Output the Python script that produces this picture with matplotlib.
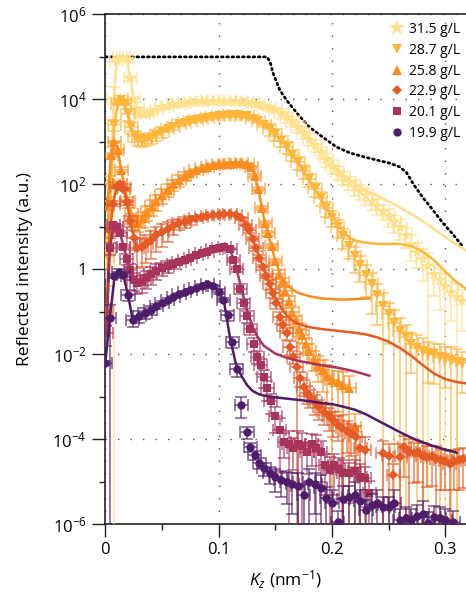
import numpy as np
import matplotlib
matplotlib.use('Agg')
import matplotlib.pyplot as plt
from matplotlib.lines import Line2D
from matplotlib.ticker import FixedLocator, FixedFormatter

plt.rcParams['font.family'] = ['Open Sans', 'DejaVu Sans']
plt.rcParams['mathtext.fontset'] = 'custom'
plt.rcParams['mathtext.rm'] = 'Open Sans'
plt.rcParams['mathtext.it'] = 'Open Sans:italic'
plt.rcParams['mathtext.bf'] = 'Open Sans:bold'

# ---------------- data (Kz [nm^-1], log10 intensity, relative error) ----------------
labels = ['31.5 g/L', '28.7 g/L', '25.8 g/L', '22.9 g/L', '20.1 g/L', '19.9 g/L']
colors = ['#FEE08C', '#FDB53A', '#F98D1E', '#E45B26', '#A8345B', '#4F1C6A']
markers = ['*', 'v', '^', 'D', 's', 'o']

data_315 = np.array([
    [0.000, 0.1, 0.5], [0.004, 2.0, 0.6], [0.0075, 4.0, 1.0], [0.010, 4.9, 0.06], [0.013, 5.0, 0.06],
    [0.016, 5.0, 0.06], [0.019, 4.95, 0.06], [0.022, 4.5, 0.12], [0.025, 4.0, 0.12], [0.028, 3.78, 0.12],
    [0.031, 3.68, 0.12], [0.034, 3.65, 0.12], [0.037, 3.66, 0.12], [0.040, 3.7, 0.12], [0.045, 3.76, 0.06],
    [0.050, 3.81, 0.06], [0.055, 3.85, 0.06], [0.060, 3.88, 0.06], [0.065, 3.9, 0.06], [0.070, 3.92, 0.06],
    [0.075, 3.94, 0.06], [0.080, 3.95, 0.06], [0.085, 3.96, 0.06], [0.090, 3.97, 0.06], [0.095, 3.97, 0.06],
    [0.100, 3.97, 0.06], [0.105, 3.97, 0.06], [0.110, 3.96, 0.06], [0.115, 3.96, 0.06], [0.120, 3.95, 0.06],
    [0.125, 3.94, 0.06], [0.130, 3.92, 0.06], [0.135, 3.88, 0.12], [0.140, 3.84, 0.12], [0.145, 3.79, 0.12],
    [0.150, 3.74, 0.12], [0.155, 3.67, 0.25], [0.160, 3.58, 0.25], [0.165, 3.48, 0.25], [0.170, 3.36, 0.3],
    [0.175, 3.22, 0.3], [0.180, 3.07, 0.3], [0.185, 2.92, 0.3], [0.190, 2.76, 0.3], [0.195, 2.6, 0.35],
    [0.200, 2.44, 0.35], [0.205, 2.3, 0.35], [0.210, 2.17, 0.35], [0.215, 2.05, 0.35], [0.220, 1.95, 0.4],
    [0.225, 1.85, 0.4], [0.230, 1.74, 0.4], [0.235, 1.62, 0.4], [0.240, 1.5, 0.4], [0.245, 1.38, 0.4],
    [0.250, 1.25, 0.45], [0.255, 1.12, 0.45], [0.260, 1.0, 0.5], [0.265, 0.8, 0.5], [0.270, 0.6, 0.6],
    [0.275, 0.42, 0.6], [0.280, 0.25, 0.7], [0.285, 0.08, 1.0], [0.290, -0.1, 0.7], [0.295, -0.25, 0.8],
    [0.300, -0.4, 1.0], [0.305, -0.52, 0.8], [0.310, -0.65, 1.0], [0.315, -0.75, 0.8]])

data_287 = np.array([
    [0.002, 0.3, 0.8], [0.005, 2.0, 0.6], [0.008, 3.4, 0.3], [0.011, 3.9, 0.06], [0.014, 3.98, 0.06],
    [0.017, 3.9, 0.06], [0.020, 3.65, 0.3], [0.023, 3.35, 0.3], [0.026, 3.15, 0.3], [0.029, 3.07, 0.3],
    [0.032, 3.03, 0.3], [0.035, 3.05, 0.3], [0.040, 3.1, 0.3], [0.045, 3.17, 0.3], [0.050, 3.24, 0.3],
    [0.055, 3.3, 0.15], [0.060, 3.36, 0.15], [0.065, 3.41, 0.1], [0.070, 3.45, 0.1], [0.075, 3.49, 0.1],
    [0.080, 3.52, 0.1], [0.085, 3.55, 0.1], [0.090, 3.57, 0.1], [0.095, 3.59, 0.1], [0.100, 3.61, 0.1],
    [0.105, 3.62, 0.1], [0.110, 3.63, 0.1], [0.115, 3.63, 0.1], [0.120, 3.62, 0.1], [0.125, 3.6, 0.1],
    [0.130, 3.55, 0.1], [0.135, 3.48, 0.1], [0.140, 3.4, 0.1], [0.145, 3.3, 0.3], [0.150, 3.18, 0.3],
    [0.155, 3.03, 0.3], [0.160, 2.88, 0.3], [0.165, 2.7, 0.3], [0.170, 2.52, 0.35], [0.175, 2.32, 0.35],
    [0.180, 2.12, 0.35], [0.185, 1.9, 0.35], [0.190, 1.68, 0.35], [0.195, 1.45, 0.4], [0.200, 1.22, 0.4],
    [0.205, 1.0, 0.45], [0.210, 0.78, 0.5], [0.215, 0.55, 0.5], [0.220, 0.32, 0.6], [0.225, 0.1, 0.6],
    [0.230, -0.12, 0.7], [0.235, -0.35, 0.8], [0.240, -0.6, 0.8], [0.245, -0.85, 1.0], [0.250, -1.05, 0.8],
    [0.255, -1.25, 1.0], [0.260, -1.45, 1.0], [0.265, -1.6, 1.0], [0.270, -1.75, 0.8], [0.275, -1.85, 1.0],
    [0.280, -1.92, 1.0], [0.285, -1.97, 0.8], [0.290, -2.0, 0.8], [0.295, -2.05, 1.0], [0.300, -2.08, 0.8],
    [0.305, -2.12, 1.0], [0.310, -2.17, 1.0], [0.315, -2.2, 0.8]])

data_258 = np.array([
    [0.002, 1.5, 0.6], [0.005, 2.7, 0.12], [0.008, 3.0, 0.06], [0.011, 2.8, 0.06], [0.014, 2.35, 0.12],
    [0.017, 1.95, 0.12], [0.020, 1.6, 0.3], [0.023, 1.3, 0.4], [0.026, 1.12, 0.4], [0.029, 1.1, 0.4],
    [0.033, 1.2, 0.4], [0.037, 1.35, 0.4], [0.041, 1.48, 0.4], [0.045, 1.6, 0.4], [0.050, 1.75, 0.4],
    [0.055, 1.88, 0.35], [0.060, 2.0, 0.3], [0.065, 2.1, 0.3], [0.070, 2.2, 0.25], [0.075, 2.27, 0.12],
    [0.080, 2.33, 0.06], [0.085, 2.38, 0.06], [0.090, 2.42, 0.06], [0.095, 2.45, 0.06], [0.100, 2.47, 0.06],
    [0.105, 2.48, 0.06], [0.110, 2.49, 0.06], [0.115, 2.5, 0.06], [0.120, 2.5, 0.06], [0.125, 2.48, 0.06],
    [0.129, 2.4, 0.06], [0.132, 2.2, 0.12], [0.135, 1.9, 0.12], [0.138, 1.45, 0.12], [0.141, 1.1, 0.12],
    [0.144, 0.85, 0.12], [0.147, 0.55, 0.12], [0.150, 0.2, 0.12], [0.153, -0.1, 0.25], [0.156, -0.3, 0.25],
    [0.159, -0.5, 0.25], [0.162, -0.75, 0.3], [0.165, -1.0, 0.3], [0.168, -1.2, 0.3], [0.171, -1.4, 0.35],
    [0.174, -1.55, 0.35], [0.177, -1.75, 0.4], [0.180, -1.92, 0.45], [0.184, -2.1, 0.5], [0.188, -2.25, 0.6],
    [0.192, -2.37, 0.7], [0.196, -2.5, 0.8], [0.200, -2.6, 1.0], [0.205, -2.65, 0.8], [0.210, -2.72, 1.0],
    [0.215, -2.8, 1.0], [0.220, -3.7, 1.0]])

data_229 = np.array([
    [0.001, -1.0, 0.5], [0.004, 0.9, 0.3], [0.007, 1.55, 0.12], [0.010, 1.95, 0.06], [0.013, 2.02, 0.06],
    [0.016, 1.9, 0.06], [0.019, 1.58, 0.12], [0.022, 1.15, 0.3], [0.025, 0.75, 0.5], [0.028, 0.5, 0.65],
    [0.032, 0.52, 0.65], [0.036, 0.6, 0.65], [0.040, 0.69, 0.65], [0.045, 0.8, 0.6], [0.050, 0.88, 0.55],
    [0.055, 0.95, 0.5], [0.060, 1.02, 0.4], [0.065, 1.08, 0.3], [0.070, 1.12, 0.3], [0.075, 1.16, 0.25],
    [0.080, 1.2, 0.12], [0.085, 1.23, 0.12], [0.090, 1.25, 0.06], [0.095, 1.27, 0.06], [0.100, 1.28, 0.06],
    [0.105, 1.3, 0.06], [0.110, 1.3, 0.06], [0.115, 1.28, 0.06], [0.120, 1.2, 0.06], [0.124, 1.05, 0.06],
    [0.127, 0.92, 0.12], [0.130, 0.72, 0.12], [0.133, 0.5, 0.12], [0.136, 0.28, 0.12], [0.139, 0.05, 0.12],
    [0.142, -0.15, 0.12], [0.145, -0.35, 0.25], [0.148, -0.55, 0.25], [0.151, -0.8, 0.25], [0.154, -1.12, 0.3],
    [0.157, -1.3, 0.3], [0.160, -1.5, 0.3], [0.163, -1.82, 0.35], [0.166, -2.05, 0.35], [0.169, -2.3, 1.0],
    [0.172, -2.55, 0.4], [0.175, -2.76, 0.4], [0.178, -2.9, 0.45], [0.181, -3.0, 0.45], [0.185, -3.12, 0.5],
    [0.189, -3.24, 0.5], [0.193, -3.35, 0.5], [0.197, -3.45, 0.55], [0.201, -3.55, 0.6], [0.205, -3.65, 0.6],
    [0.209, -3.72, 1.0], [0.213, -3.8, 0.7], [0.217, -3.86, 0.7], [0.221, -3.95, 0.8], [0.225, -4.2, 0.8],
    [0.229, -4.25, 1.0], [0.245, -4.33, 1.0], [0.250, -4.4, 1.0], [0.254, -4.84, 0.8], [0.260, -4.41, 1.0],
    [0.264, -4.18, 0.8], [0.268, -4.3, 1.0], [0.272, -4.33, 0.8], [0.276, -4.3, 0.8], [0.280, -4.38, 1.0],
    [0.284, -4.41, 0.8], [0.288, -4.4, 0.8], [0.292, -4.45, 1.0], [0.296, -4.49, 0.8], [0.300, -4.5, 0.8],
    [0.304, -4.57, 1.0], [0.308, -4.5, 0.8], [0.312, -4.49, 0.8], [0.316, -4.45, 0.8]])

data_201 = np.array([
    [0.001, -1.5, 0.5], [0.004, 0.5, 0.3], [0.007, 1.04, 0.12], [0.010, 1.0, 0.12], [0.013, 0.85, 0.12],
    [0.016, 0.53, 0.12], [0.019, 0.25, 0.3], [0.022, -0.02, 0.4], [0.025, -0.25, 0.45], [0.028, -0.32, 0.45],
    [0.032, -0.3, 0.45], [0.036, -0.2, 0.45], [0.040, -0.1, 0.45], [0.045, -0.03, 0.4], [0.050, 0.03, 0.35],
    [0.055, 0.08, 0.3], [0.060, 0.13, 0.25], [0.065, 0.18, 0.12], [0.070, 0.23, 0.12], [0.075, 0.28, 0.06],
    [0.080, 0.33, 0.06], [0.085, 0.38, 0.06], [0.090, 0.42, 0.06], [0.095, 0.47, 0.06], [0.100, 0.5, 0.06],
    [0.105, 0.53, 0.06], [0.110, 0.48, 0.06], [0.113, 0.22, 0.12], [0.116, 0.0, 0.12], [0.119, -0.45, 0.25],
    [0.122, -0.8, 0.25], [0.125, -1.1, 0.3], [0.128, -1.4, 0.3], [0.131, -1.75, 0.35], [0.134, -2.05, 0.35],
    [0.137, -2.25, 0.4], [0.140, -2.53, 0.45], [0.143, -2.8, 0.5], [0.146, -3.1, 0.5], [0.150, -3.45, 0.6],
    [0.154, -3.78, 0.9], [0.158, -4.05, 0.6], [0.162, -4.1, 1.0], [0.166, -4.2, 0.7], [0.170, -4.1, 1.0],
    [0.174, -4.15, 1.0], [0.178, -4.3, 0.7], [0.182, -4.1, 0.7], [0.186, -4.2, 1.0], [0.190, -4.3, 0.8],
    [0.194, -4.6, 0.8], [0.198, -4.72, 1.0], [0.202, -4.6, 0.8], [0.206, -4.7, 0.8], [0.210, -4.78, 1.0],
    [0.215, -4.8, 0.8], [0.220, -4.75, 0.8], [0.225, -4.88, 1.0], [0.229, -4.9, 0.8], [0.233, -5.27, 1.0]])

data_199 = np.array([
    [0.000, -2.2, 0.12], [0.004, -1.15, 1.0], [0.008, -0.15, 0.12], [0.012, -0.05, 0.12], [0.016, -0.12, 0.12],
    [0.020, -0.6, 0.3], [0.024, -1.2, 0.3], [0.030, -1.1, 0.3], [0.035, -1.02, 0.3], [0.040, -0.95, 0.25],
    [0.045, -0.87, 0.12], [0.050, -0.79, 0.12], [0.055, -0.71, 0.06], [0.060, -0.65, 0.06], [0.065, -0.59, 0.06],
    [0.070, -0.54, 0.06], [0.075, -0.48, 0.06], [0.080, -0.43, 0.06], [0.085, -0.38, 0.06], [0.090, -0.35, 0.06],
    [0.095, -0.40, 0.06], [0.100, -0.52, 0.12], [0.104, -0.72, 0.12], [0.108, -1.08, 0.25], [0.112, -1.7, 0.3],
    [0.116, -2.35, 0.35], [0.120, -3.19, 0.5], [0.125, -3.83, 0.3], [0.128, -4.17, 0.25], [0.132, -4.37, 0.25],
    [0.136, -4.55, 0.3], [0.140, -4.68, 0.35], [0.145, -4.8, 0.45], [0.150, -4.88, 0.55], [0.155, -4.95, 0.6],
    [0.160, -5.0, 0.7], [0.165, -5.05, 0.8], [0.170, -5.1, 1.0], [0.175, -5.3, 0.8], [0.180, -5.0, 1.0],
    [0.185, -5.05, 0.8], [0.190, -5.15, 1.0], [0.195, -5.38, 0.8], [0.200, -5.5, 1.0], [0.205, -5.95, 0.8],
    [0.210, -5.4, 1.0], [0.215, -5.36, 0.8], [0.220, -5.3, 1.0], [0.225, -5.45, 0.8], [0.230, -5.67, 0.8],
    [0.235, -5.55, 0.8], [0.240, -5.5, 1.0], [0.245, -5.6, 0.8], [0.250, -5.6, 0.8], [0.255, -5.5, 1.0],
    [0.260, -5.9, 0.8], [0.265, -5.85, 0.8], [0.270, -5.9, 0.8], [0.275, -5.8, 0.8], [0.280, -5.75, 1.0],
    [0.285, -5.97, 0.8], [0.290, -5.83, 0.8], [0.295, -5.85, 0.8], [0.300, -5.9, 0.8], [0.307, -5.95, 0.8]])

# fitted model curves (Kz, log10 intensity)
fit_315 = np.array([
    [0.000, 0.1], [0.004, 2.0], [0.0075, 4.0], [0.010, 4.9], [0.013, 5.0], [0.016, 5.0], [0.019, 4.95],
    [0.022, 4.5], [0.025, 4.0], [0.028, 3.78], [0.032, 3.67], [0.036, 3.66], [0.040, 3.7], [0.050, 3.81],
    [0.060, 3.88], [0.070, 3.92], [0.080, 3.95], [0.090, 3.97], [0.100, 3.97], [0.110, 3.96], [0.120, 3.95],
    [0.130, 3.92], [0.140, 3.84], [0.150, 3.74], [0.160, 3.58], [0.170, 3.36], [0.180, 3.07], [0.190, 2.76],
    [0.200, 2.45], [0.210, 2.2], [0.220, 2.02], [0.230, 1.87], [0.240, 1.73], [0.250, 1.6], [0.260, 1.46],
    [0.270, 1.3], [0.280, 1.14], [0.290, 0.95], [0.300, 0.76], [0.310, 0.58], [0.318, 0.45]])
fit_287 = np.array([
    [0.002, 0.3], [0.005, 2.0], [0.008, 3.4], [0.011, 3.9], [0.014, 3.98], [0.017, 3.9], [0.020, 3.65],
    [0.023, 3.35], [0.026, 3.15], [0.030, 3.05], [0.040, 3.1], [0.050, 3.24], [0.060, 3.36], [0.070, 3.45],
    [0.080, 3.52], [0.090, 3.57], [0.100, 3.61], [0.110, 3.63], [0.120, 3.62], [0.130, 3.55], [0.140, 3.4],
    [0.150, 3.18], [0.160, 2.88], [0.170, 2.52], [0.180, 2.12], [0.190, 1.68], [0.200, 1.25], [0.210, 0.9],
    [0.215, 0.75], [0.220, 0.68], [0.230, 0.63], [0.240, 0.6], [0.250, 0.6], [0.260, 0.6], [0.270, 0.55],
    [0.280, 0.42], [0.290, 0.22], [0.300, -0.05], [0.310, -0.3], [0.318, -0.45]])
fit_258 = np.array([
    [0.002, 1.5], [0.005, 2.7], [0.008, 3.0], [0.011, 2.8], [0.014, 2.35], [0.017, 1.95], [0.020, 1.6],
    [0.023, 1.3], [0.026, 1.12], [0.030, 1.12], [0.040, 1.45], [0.050, 1.75], [0.060, 2.0], [0.070, 2.2],
    [0.080, 2.33], [0.090, 2.42], [0.100, 2.47], [0.110, 2.49], [0.120, 2.5], [0.125, 2.48], [0.130, 2.35],
    [0.135, 1.9], [0.140, 1.2], [0.145, 0.7], [0.150, 0.2], [0.155, -0.15], [0.160, -0.35], [0.165, -0.47],
    [0.170, -0.55], [0.180, -0.63], [0.190, -0.68], [0.200, -0.7], [0.210, -0.71], [0.220, -0.7], [0.233, -0.68]])
fit_229 = np.array([
    [0.001, -1.0], [0.004, 0.9], [0.007, 1.55], [0.010, 1.95], [0.013, 2.0], [0.016, 1.9], [0.019, 1.58],
    [0.022, 1.15], [0.025, 0.75], [0.028, 0.52], [0.035, 0.58], [0.045, 0.8], [0.055, 0.95], [0.065, 1.08],
    [0.075, 1.16], [0.085, 1.23], [0.095, 1.27], [0.105, 1.3], [0.115, 1.28], [0.120, 1.2], [0.125, 1.02],
    [0.130, 0.72], [0.135, 0.35], [0.140, 0.0], [0.145, -0.35], [0.150, -0.65], [0.155, -0.9], [0.160, -1.08],
    [0.165, -1.2], [0.170, -1.28], [0.180, -1.36], [0.190, -1.4], [0.200, -1.43], [0.210, -1.46], [0.220, -1.49],
    [0.230, -1.53], [0.240, -1.6], [0.250, -1.7], [0.260, -1.85], [0.270, -2.03], [0.280, -2.25], [0.290, -2.45],
    [0.300, -2.58], [0.310, -2.65], [0.318, -2.68]])
fit_201 = np.array([
    [0.001, -1.5], [0.004, 0.5], [0.007, 1.0], [0.010, 1.0], [0.013, 0.85], [0.016, 0.55], [0.020, 0.15],
    [0.025, -0.22], [0.028, -0.3], [0.035, -0.2], [0.045, -0.03], [0.055, 0.08], [0.065, 0.18], [0.075, 0.28],
    [0.085, 0.38], [0.095, 0.47], [0.105, 0.53], [0.110, 0.48], [0.115, 0.1], [0.120, -0.45], [0.125, -0.95],
    [0.130, -1.35], [0.135, -1.62], [0.140, -1.8], [0.150, -1.98], [0.160, -2.08], [0.170, -2.15], [0.180, -2.2],
    [0.190, -2.25], [0.200, -2.29], [0.210, -2.34], [0.220, -2.4], [0.233, -2.5]])
fit_199 = np.array([
    [0.000, -2.2], [0.004, -1.15], [0.008, -0.2], [0.012, -0.05], [0.016, -0.15], [0.020, -0.6], [0.024, -1.15],
    [0.030, -1.08], [0.040, -0.95], [0.050, -0.8], [0.060, -0.66], [0.070, -0.54], [0.080, -0.44], [0.090, -0.37],
    [0.095, -0.4], [0.100, -0.52], [0.105, -0.8], [0.110, -1.6], [0.115, -2.2], [0.120, -2.5], [0.125, -2.72],
    [0.130, -2.86], [0.135, -2.93], [0.140, -2.97], [0.150, -3.01], [0.160, -3.04], [0.170, -3.07], [0.180, -3.1],
    [0.190, -3.14], [0.200, -3.17], [0.210, -3.23], [0.220, -3.3], [0.230, -3.41], [0.240, -3.55], [0.250, -3.69],
    [0.260, -3.83], [0.270, -3.96], [0.280, -4.07], [0.290, -4.16], [0.300, -4.24], [0.310, -4.31]])

# black dotted reference curve
ref_curve = np.array([
    [0.000, 5.0], [0.1427, 5.0], [0.1454, 4.88], [0.148, 4.62], [0.154, 4.22], [0.160, 3.98], [0.169, 3.68],
    [0.180, 3.35], [0.192, 3.11], [0.204, 2.88], [0.216, 2.74], [0.228, 2.65], [0.240, 2.57], [0.251, 2.5],
    [0.260, 2.41], [0.266, 2.27], [0.272, 2.0], [0.280, 1.70], [0.289, 1.40], [0.298, 1.09], [0.306, 0.85],
    [0.316, 0.52]])

kz_resolution = 0.0058

series = [data_315, data_287, data_258, data_229, data_201, data_199]
fits = [fit_315, fit_287, fit_258, fit_229, fit_201, fit_199]
msizes = [9.5, 6.8, 6.8, 5.6, 5.8, 6.0]

y_major = [1e-6, 1e-4, 1e-2, 1, 1e2, 1e4, 1e6]
y_major_labels = [r'$10^{-6}$', r'$10^{-4}$', r'$10^{-2}$', '1', r'$10^{2}$', r'$10^{4}$', r'$10^{6}$']
y_minor = [1e-5, 1e-3, 1e-1, 1e1, 1e3, 1e5]
x_major = [0, 0.1, 0.2, 0.3]
x_major_labels = ['0', '0.1', '0.2', '0.3']
x_minor = [0.05, 0.15, 0.25]

# ---------------- figure ----------------
fig = plt.figure(figsize=(4.66, 6.0), dpi=100)
ax = fig.add_axes([0.226, 0.126, 0.774, 0.850])
ax.set_yscale('log')

ax.plot(ref_curve[:, 0], 10 ** ref_curve[:, 1], color='black', lw=2.0,
        linestyle=(0, (0.6, 1.3)), dash_capstyle='round', zorder=2)

for i, (d, f) in enumerate(zip(series, fits)):
    col = colors[i]
    kz = d[:, 0]
    inten = 10 ** d[:, 1]
    frac = d[:, 2]
    lower = np.where(frac >= 1.0, inten - 1e-8, inten * frac)
    upper = inten * frac
    z = 3 + i
    ax.errorbar(kz, inten, yerr=[lower, upper], xerr=kz_resolution, fmt='none',
                ecolor=col, elinewidth=1.1, capsize=4.6, capthick=1.1, alpha=0.75, zorder=z)
    ax.plot(f[:, 0], 10 ** f[:, 1], color=col, lw=1.8, zorder=z + 0.1)
    ax.plot(kz, inten, linestyle='none', marker=markers[i], ms=msizes[i], color=col,
            markeredgewidth=0, zorder=z + 0.2)

ax.set_xlim(0, 0.3183)
ax.set_ylim(1e-6, 1e6)

ax.yaxis.set_major_locator(FixedLocator(y_major))
ax.yaxis.set_major_formatter(FixedFormatter(y_major_labels))
ax.yaxis.set_minor_locator(FixedLocator(y_minor))
ax.yaxis.set_minor_formatter(FixedFormatter([''] * len(y_minor)))
ax.xaxis.set_major_locator(FixedLocator(x_major))
ax.xaxis.set_major_formatter(FixedFormatter(x_major_labels))
ax.xaxis.set_minor_locator(FixedLocator(x_minor))

ax.tick_params(which='major', direction='out', length=9.5, width=1.0, labelsize=12, pad=3, color='#222222')
ax.tick_params(which='minor', direction='out', length=4.5, width=1.0, color='#222222')
ax.tick_params(axis='y', which='major', pad=4)

for s in ['left', 'bottom', 'top']:
    ax.spines[s].set_linewidth(1.2)
    ax.spines[s].set_color('#222222')
ax.spines['right'].set_visible(False)

ax.grid(which='major', linestyle=(0, (1, 8)), color='#555555', linewidth=1.0)
ax.set_axisbelow(True)

ax.set_ylabel('Reflected intensity (a.u.)', fontsize=12.5, labelpad=14)
ax.set_xlabel(r'$K_z$ (nm$^{-1}$)', fontsize=12.5, labelpad=8)

handles = [Line2D([], [], linestyle='none', marker=markers[i], ms=msizes[i] * (1.25 if i == 0 else 1.0),
                  color=colors[i], markeredgewidth=0) for i in range(6)]
ax.legend(handles, labels, loc='upper left', bbox_to_anchor=(0.8369, 0.963),
          bbox_transform=fig.transFigure, frameon=False, fontsize=10, borderpad=0,
          borderaxespad=0, handlelength=1.0, handletextpad=0.36, labelspacing=0.41)

fig.savefig('out.png', dpi=100)
